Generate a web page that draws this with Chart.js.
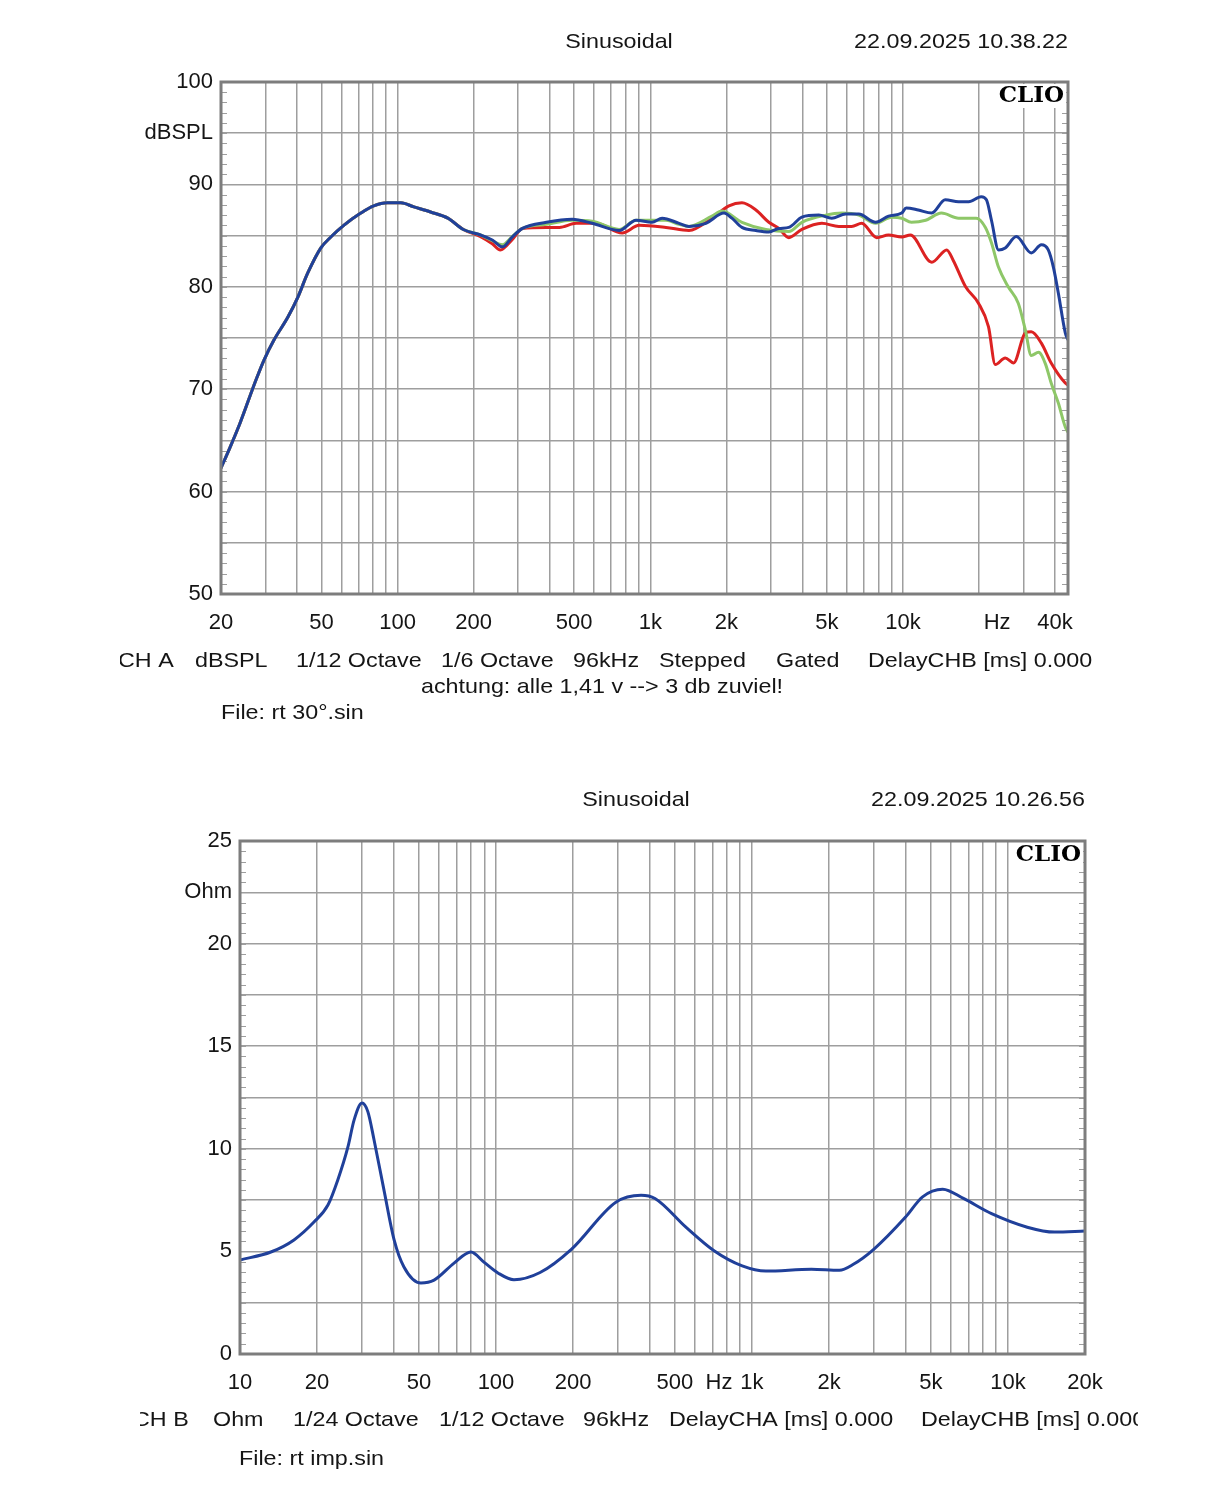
<!DOCTYPE html>
<html>
<head>
<meta charset="utf-8">
<script src="https://cdn.jsdelivr.net/npm/chart.js@4.4.1/dist/chart.umd.min.js"></script>
<style>
  body { margin: 0; background: #fff; }
  canvas { position: absolute; left: 0; }
</style>
</head>
<body>
<canvas id="spl" width="1221" height="750" style="top:0"></canvas>
<canvas id="imp" width="1221" height="750" style="top:750px"></canvas>
<script>
// ---- frequency response (dBSPL), three curves sharing the low end ----
const lowFreq = [20, 21.7, 23.8, 27.5, 29.6, 32.4, 36.8, 40.3, 44.1, 49.7, 54.4, 61.2, 71.5, 80.4, 91.3, 103, 116, 135, 158, 182];
const lowSpl  = [62.3, 64.3, 66.7, 70.9, 72.85, 74.8, 77.05, 79.0, 81.35, 83.8, 84.86, 86.0, 87.2, 87.9, 88.2, 88.2, 87.8, 87.3, 86.7, 85.6];

const blueFreq = [213, 237, 260, 284, 312, 388, 491, 589, 753, 879, 1016, 1114, 1300, 1423, 1660, 1958, 2104, 2306, 2618, 2946, 3228, 3534, 3980, 4645, 5225, 5932, 6685, 7800, 8770, 9886, 10300, 11500, 13000, 14700, 16600, 18200, 20400, 21400, 22400, 23900, 25400, 28100, 32200, 35300, 37600, 39400, 41200, 43900, 45000];
const blueSpl  = [85.06, 84.57, 83.9, 84.86, 85.7, 86.3, 86.6, 86.2, 85.5, 86.5, 86.3, 86.7, 86.2, 85.9, 86.2, 87.2, 86.7, 85.8, 85.5, 85.35, 85.7, 85.8, 86.8, 87.0, 86.7, 87.1, 87.1, 86.3, 86.9, 87.2, 87.7, 87.5, 87.2, 88.5, 88.3, 88.3, 88.8, 88.5, 86.5, 83.6, 83.8, 84.9, 83.3, 84.1, 83.6, 81.9, 79.4, 75.5, 74.8];

const greenFreq = [213, 237, 260, 284, 312, 388, 491, 589, 753, 879, 1016, 1154, 1300, 1423, 1754, 1922, 2306, 2866, 3534, 3980, 4945, 5730, 6685, 7800, 9020, 9886, 10800, 12300, 14200, 16600, 19500, 21200, 22400, 23900, 26100, 28600, 30500, 32200, 34400, 36600, 38600, 41200, 43900, 45000];
const greenSpl  = [85.06, 84.5, 84.1, 84.9, 85.7, 86.1, 86.5, 86.4, 85.6, 86.5, 86.5, 86.5, 86.1, 85.9, 86.9, 87.4, 86.3, 85.6, 85.4, 86.3, 87.0, 87.2, 87.0, 86.2, 86.8, 86.7, 86.3, 86.5, 87.2, 86.7, 86.7, 85.8, 84.3, 81.9, 80.0, 78.4, 75.8, 73.3, 73.6, 72.5, 70.6, 68.65, 66.3, 65.8];

const redFreq = [213, 237, 255, 284, 312, 388, 437, 509, 611, 774, 904, 1154, 1423, 1754, 2048, 2306, 2618, 2946, 3228, 3534, 3980, 4775, 5572, 6268, 6871, 7872, 8770, 9886, 10700, 13000, 14900, 15800, 17700, 19900, 21800, 23200, 25400, 27400, 30500, 32200, 35300, 38600, 43900, 45000];
const redSpl  = [84.9, 84.2, 83.6, 84.6, 85.7, 85.8, 85.8, 86.2, 86.2, 85.25, 86.0, 85.8, 85.5, 86.7, 87.9, 88.2, 87.5, 86.3, 85.7, 84.8, 85.6, 86.2, 85.9, 85.9, 86.2, 84.8, 85.06, 84.86, 85.06, 82.4, 83.6, 82.6, 80.0, 78.4, 76.1, 72.4, 73.05, 72.56, 75.5, 75.6, 74.5, 72.56, 70.6, 70.4];

const splGridFreq = [20, 30, 40, 50, 60, 70, 80, 90, 100, 200, 300, 400, 500, 600, 700, 800, 900, 1000, 2000, 3000, 4000, 5000, 6000, 7000, 8000, 9000, 10000, 20000, 30000, 40000];
const splTickFreq = [20, 50, 100, 200, 500, 1000, 2000, 5000, 10000, 23600, 40000];
const splTickText = ["20", "50", "100", "200", "500", "1k", "2k", "5k", "10k", "Hz", "40k"];

// ---- impedance (Ohm) ----
const impFreq = [10, 13.2, 16.25, 19.45, 22.06, 24.1, 26.4, 27.9, 29.96, 31.6, 33.4, 36.5, 40, 43.7, 50.9, 57.3, 68.6, 79.8, 89.7, 101.8, 117.6, 148.7, 197, 294, 369, 418, 552, 711, 916, 1134, 1706, 2195, 2490, 2990, 3973, 4640, 5560, 6700, 8630, 11900, 15200, 20000];
const impOhm  = [4.58, 4.97, 5.56, 6.43, 7.26, 8.48, 10.09, 11.4, 12.23, 11.8, 10.43, 8.0, 5.56, 4.24, 3.46, 3.6, 4.43, 4.97, 4.48, 3.95, 3.62, 3.97, 5.1, 7.4, 7.74, 7.58, 6.18, 5.03, 4.29, 4.04, 4.13, 4.08, 4.37, 5.1, 6.66, 7.66, 8.03, 7.58, 6.84, 6.18, 5.94, 5.99];

const impGridFreq = [10, 20, 30, 40, 50, 60, 70, 80, 90, 100, 200, 300, 400, 500, 600, 700, 800, 900, 1000, 2000, 3000, 4000, 5000, 6000, 7000, 8000, 9000, 10000, 20000];
const impTickFreq = [10, 20, 50, 100, 200, 500, 743, 1000, 2000, 5000, 10000, 20000];
const impTickText = ["10", "20", "50", "100", "200", "500", "Hz", "1k", "2k", "5k", "10k", "20k"];

const FONT = "Liberation Sans";
const GRID = "#9e9e9e";
const FRAME = "#7d7d7d";
const INK = "#151515";
const STRETCH = 1.11; // the captions in the picture are a bit wider than the font

function pts(f, v) {
  return f.map((x, i) => ({ x: x, y: v[i] }));
}

function curve(label, f, v, color) {
  return {
    label: label,
    data: pts(f, v),
    borderColor: color,
    borderWidth: 3,
    pointRadius: 0,
    cubicInterpolationMode: "monotone",
    fill: false
  };
}

// frame, minor ticks, CLIO badge and the text around the plot
const frame = {
  id: "frame",
  beforeDatasetsDraw(chart, args, o) {
    const { ctx, chartArea: a } = chart;
    const y = chart.scales.y;
    ctx.save();
    ctx.strokeStyle = GRID;
    ctx.lineWidth = 1.2;
    for (let v = y.min; v <= y.max + 1e-6; v += o.minorStep) {
      const py = Math.round(y.getPixelForValue(v)) + 0.5;
      ctx.beginPath();
      ctx.moveTo(a.left, py); ctx.lineTo(a.left + 6, py);
      ctx.moveTo(a.right, py); ctx.lineTo(a.right - 6, py);
      ctx.stroke();
    }
    ctx.restore();
  },
  afterDatasetsDraw(chart, args, o) {
    const { ctx, chartArea: a } = chart;
    ctx.save();
    ctx.font = "bold 23px 'DejaVu Serif'";
    ctx.textAlign = "right";
    ctx.textBaseline = "alphabetic";
    const w = ctx.measureText("CLIO").width;
    ctx.fillStyle = "#fff";
    ctx.fillRect(a.right - w - 6, a.top + 2, w + 4, 24);
    ctx.fillStyle = "#000";
    ctx.fillText("CLIO", a.right - 4, a.top + 20);
    ctx.strokeStyle = FRAME;
    ctx.lineWidth = 3;
    ctx.strokeRect(a.left, a.top, a.right - a.left, a.bottom - a.top);
    ctx.restore();
  },
  afterDraw(chart, args, o) {
    const ctx = chart.ctx;
    ctx.save();
    ctx.beginPath();
    ctx.rect(o.clipLeft, 0, o.clipRight - o.clipLeft, chart.height);
    ctx.clip();
    ctx.fillStyle = INK;
    ctx.font = "21px '" + FONT + "'";
    ctx.textBaseline = "middle";
    o.texts.forEach(t => {
      ctx.save();
      ctx.translate(t[1], t[2]);
      ctx.scale(STRETCH, 1);
      ctx.textAlign = t[3] || "left";
      ctx.fillText(t[0], 0, 0);
      ctx.restore();
    });
    ctx.restore();
  }
};

function makeChart(id, cfg) {
  const tickMap = new Map(cfg.tickFreq.map((f, i) => [f, cfg.tickText[i]]));
  const hzValue = cfg.tickFreq[cfg.tickText.indexOf("Hz")];
  return new Chart(document.getElementById(id), {
    type: "line",
    data: { datasets: cfg.datasets },
    options: {
      responsive: false,
      animation: false,
      devicePixelRatio: 1,
      layout: { padding: cfg.padding },
      plugins: {
        legend: { display: false },
        tooltip: { enabled: false },
        frame: cfg.frame
      },
      scales: {
        x: {
          type: "logarithmic",
          min: cfg.xMin,
          max: cfg.xMax,
          afterBuildTicks: s => {
            const vals = Array.from(new Set(cfg.gridFreq.concat(cfg.tickFreq))).sort((a, b) => a - b);
            s.ticks = vals.map(v => ({ value: v }));
          },
          afterFit: s => { s.height = 50; },
          border: { display: false },
          grid: {
            drawTicks: false,
            lineWidth: 1.5,
            color: c => (c.tick && c.tick.value === hzValue) ? "rgba(0,0,0,0)" : GRID
          },
          ticks: {
            autoSkip: false,
            maxRotation: 0,
            minRotation: 0,
            padding: 16,
            color: INK,
            font: { family: FONT, size: 22 },
            callback: v => tickMap.has(v) ? tickMap.get(v) : ""
          }
        },
        y: {
          min: cfg.yMin,
          max: cfg.yMax,
          afterFit: s => { s.width = cfg.yWidth; },
          border: { display: false },
          grid: { drawTicks: false, lineWidth: 1.5, color: GRID },
          ticks: {
            stepSize: cfg.yStep,
            padding: 8,
            color: INK,
            font: { family: FONT, size: 22 },
            callback: cfg.yLabel
          }
        }
      }
    },
    plugins: [frame]
  });
}

makeChart("spl", {
  datasets: [
    curve("blue", lowFreq.concat(blueFreq), lowSpl.concat(blueSpl), "#20409a"),
    curve("green", lowFreq.concat(greenFreq), lowSpl.concat(greenSpl), "#8ec768"),
    curve("red", lowFreq.concat(redFreq), lowSpl.concat(redSpl), "#dc2222")
  ],
  xMin: 20, xMax: 45000,
  yMin: 50, yMax: 100, yStep: 5,
  yWidth: 221,
  yLabel: v => v % 10 === 0 ? String(v) : (v === 95 ? "dBSPL" : ""),
  gridFreq: splGridFreq, tickFreq: splTickFreq, tickText: splTickText,
  padding: { left: 0, right: 153, top: 82, bottom: 106 },
  frame: {
    minorStep: 1,
    clipLeft: 120, clipRight: 1221,
    texts: [
      ["Sinusoidal", 619, 42, "center"],
      ["22.09.2025 10.38.22", 1068, 42, "right"],
      ["CH A", 118, 661], ["dBSPL", 195, 661], ["1/12 Octave", 296, 661],
      ["1/6 Octave", 441, 661], ["96kHz", 573, 661], ["Stepped", 659, 661],
      ["Gated", 776, 661], ["DelayCHB [ms] 0.000", 868, 661],
      ["achtung: alle 1,41 v --> 3 db zuviel!", 602, 687, "center"],
      ["File: rt 30°.sin", 221, 713]
    ]
  }
});

makeChart("imp", {
  datasets: [curve("impedance", impFreq, impOhm, "#20409a")],
  xMin: 10, xMax: 20000,
  yMin: 0, yMax: 25, yStep: 2.5,
  yWidth: 240,
  yLabel: v => v % 5 === 0 ? String(v) : (v === 22.5 ? "Ohm" : ""),
  gridFreq: impGridFreq, tickFreq: impTickFreq, tickText: impTickText,
  padding: { left: 0, right: 136, top: 91, bottom: 96 },
  frame: {
    minorStep: 0.5,
    clipLeft: 140, clipRight: 1138,
    texts: [
      ["Sinusoidal", 636, 50, "center"],
      ["22.09.2025 10.26.56", 1085, 50, "right"],
      ["CH B", 133, 670], ["Ohm", 213, 670], ["1/24 Octave", 293, 670],
      ["1/12 Octave", 439, 670], ["96kHz", 583, 670],
      ["DelayCHA [ms] 0.000", 669, 670], ["DelayCHB [ms] 0.000", 921, 670],
      ["File: rt imp.sin", 239, 709]
    ]
  }
});
</script>
</body>
</html>
